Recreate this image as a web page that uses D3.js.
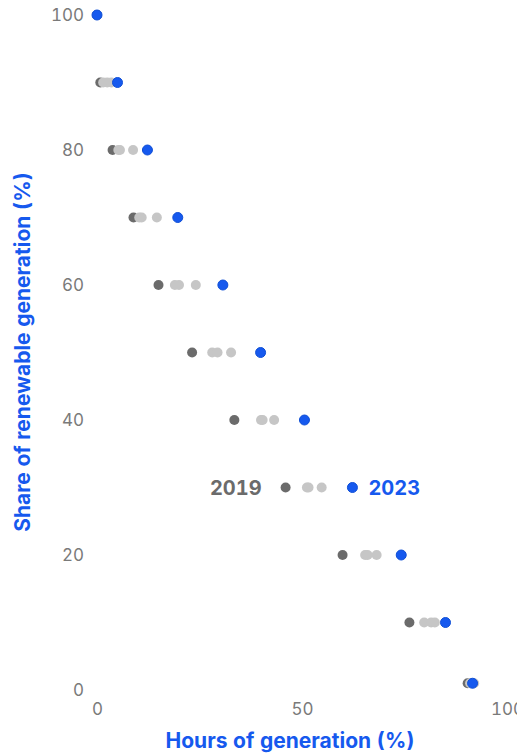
<!DOCTYPE html>
<html>
<head>
<meta charset="utf-8">
<script src="https://cdn.jsdelivr.net/npm/d3@7"></script>
<style>
  body { margin: 0; background: #fff; }
  text { font-family: Inter, "Noto Sans", sans-serif; font-variant-numeric: tabular-nums; }
</style>
</head>
<body>
<div id="chart"></div>
<script>
const width = 517;
const height = 755;

// share of renewable generation (%) for each row
const shares = [100, 90, 80, 70, 60, 50, 40, 30, 20, 10, 1];
// hours of generation (%) per year, same order as shares
const hours2019 = [0, 0.8, 3.8, 8.9, 15.0, 23.2, 33.5, 46.0, 59.9, 76.2, 90.4];
const hours2020 = [0, 1.5, 5.2, 10.3, 19.0, 28.1, 40.0, 51.2, 65.4, 79.8, 91.0];
const hours2021 = [0, 2.5, 5.6, 10.9, 20.0, 29.4, 40.4, 51.6, 66.0, 81.5, 91.6];
const hours2022 = [0, 3.5, 8.8, 14.6, 24.1, 32.7, 43.2, 54.8, 68.2, 82.4, 92.0];
const hours2023 = [0, 5.0, 12.3, 19.7, 30.7, 39.9, 50.6, 62.3, 74.2, 85.0, 91.6];
const xTicks = [0, 50, 100];
const yTicks = [0, 20, 40, 60, 80, 100];

const blue = '#1659ee';
const dark = '#6b6b6b';
const light = '#c6c6c6';

const x = d3.scaleLinear().domain([0, 100]).range([97, 507]);
const y = d3.scaleLinear().domain([0, 100]).range([690, 15]);

const svg = d3.select('#chart').append('svg')
    .attr('width', width)
    .attr('height', height);

// axes
const xAxis = svg.append('g')
    .attr('transform', 'translate(0,690)')
    .call(d3.axisBottom(x).tickValues(xTicks).tickSize(0).tickPadding(13));
const yAxis = svg.append('g')
    .attr('transform', 'translate(97,0)')
    .call(d3.axisLeft(y).tickValues(yTicks).tickSize(0).tickPadding(13));
[xAxis, yAxis].forEach(a => {
    a.select('.domain').remove();
    a.selectAll('text')
        .attr('fill', '#7a7a7a')
        .style('font-size', '17px')
        .style('font-family', 'Inter, sans-serif');
});

// dots, drawn from oldest to newest
const series = [
    {values: hours2019, color: dark},
    {values: hours2020, color: light},
    {values: hours2021, color: light},
    {values: hours2022, color: light},
    {values: hours2023, color: blue}
];
series.forEach(s => {
    svg.append('g').selectAll('circle')
        .data(shares.map((d, i) => ({share: d, hours: s.values[i]})))
        .enter().append('circle')
        .attr('cx', d => x(d.hours))
        .attr('cy', d => y(d.share))
        .attr('r', 5)
        .attr('fill', s.color)
        .attr('stroke', s.color === blue ? '#0f4fd6' : 'none')
        .attr('stroke-width', 1);
});

// year labels on the 30% row
const labelRow = shares.indexOf(30);
svg.append('text')
    .attr('x', x(hours2019[labelRow]) - 24)
    .attr('y', y(30))
    .attr('dy', '0.36em')
    .attr('text-anchor', 'end')
    .attr('fill', dark)
    .style('font-size', '20px')
    .style('font-weight', 700)
    .text('2019');
svg.append('text')
    .attr('x', x(hours2023[labelRow]) + 16)
    .attr('y', y(30))
    .attr('dy', '0.36em')
    .attr('fill', blue)
    .style('font-size', '20px')
    .style('font-weight', 700)
    .text('2023');

// axis titles
svg.append('text')
    .attr('x', 290)
    .attr('y', 748)
    .attr('text-anchor', 'middle')
    .attr('fill', blue)
    .style('font-size', '21px')
    .style('font-weight', 700)
    .text('Hours of generation (%)');
svg.append('text')
    .attr('transform', 'translate(30,352) rotate(-90)')
    .attr('text-anchor', 'middle')
    .attr('fill', blue)
    .style('font-size', '21px')
    .style('font-weight', 700)
    .text('Share of renewable generation (%)');
</script>
</body>
</html>
